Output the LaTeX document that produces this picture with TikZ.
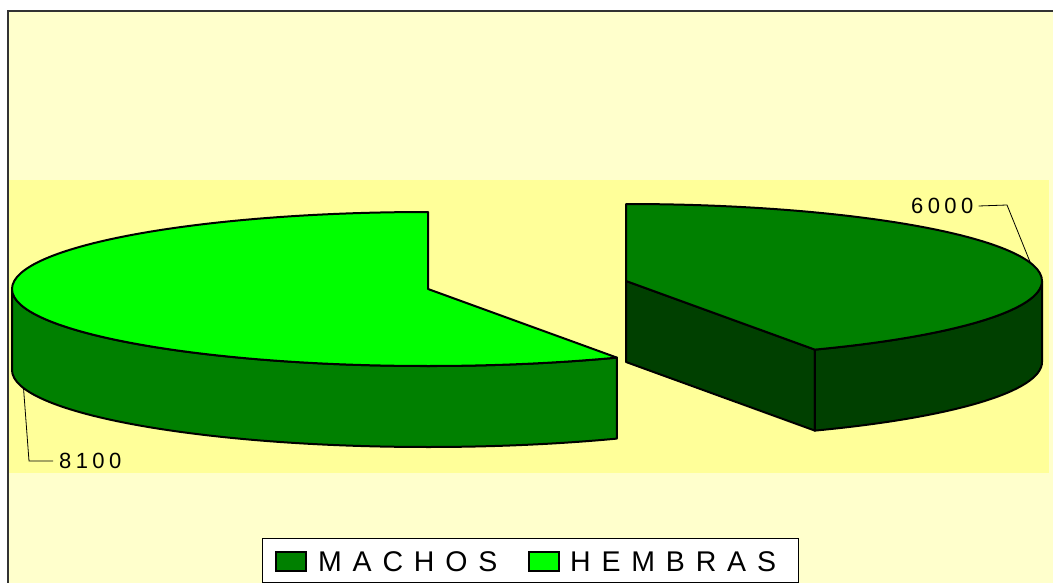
\documentclass[tikz,border=0pt]{standalone}
\usepackage{fontspec}
\setmainfont{Liberation Sans}
\usetikzlibrary{calc}
\definecolor{bgc}{HTML}{FFFFCC}
\definecolor{plotc}{HTML}{FFFF99}
\definecolor{bordc}{HTML}{333333}
\definecolor{ltgreen}{HTML}{00FF00}
\definecolor{midgreen}{HTML}{008000}
\definecolor{dkgreen}{HTML}{004000}
\begin{document}
\begin{tikzpicture}[x=1pt,y=-1pt,
  pieline/.style={draw=black,line width=2pt,line join=round},
  leader/.style={draw=black,line width=0.8pt},
  lbl/.style={font=\fontsize{22}{22}\selectfont\addfontfeature{LetterSpace=20}, inner sep=0pt, anchor=west},
  legtxt/.style={font=\fontsize{28.5}{28.5}\selectfont\addfontfeature{LetterSpace=38}, inner sep=0pt, anchor=west},
  swatch/.style={draw=black,line width=1.5pt,minimum width=30pt,minimum height=19pt,inner sep=0pt,anchor=west}]
\useasboundingbox (0,0) rectangle (1053,583);
\fill[white] (0,0) rectangle (1053,583);
\fill[bgc] (8,11) rectangle (1053,583);
\draw[line width=2pt, draw=bordc] (8,583) -- (8,11) -- (1053,11);
\fill[plotc] (9,180) rectangle (1049,473);
\coordinate (L) at (428,289);
\coordinate (R) at (626,281);
% left piece (HEMBRAS)
\path[pieline, fill=midgreen] ($(L)+(63:416 and 77)$) arc[start angle=63,end angle=180,x radius=416,y radius=77] -- ++(0,81) arc[start angle=180,end angle=63,x radius=416,y radius=77] -- cycle;
\path[pieline, fill=ltgreen] (L) -- ++(270:416 and 77) arc[start angle=270,end angle=63,x radius=416,y radius=77] -- cycle;
% right piece (MACHOS)
\path[pieline, fill=dkgreen] (R) -- ++(63:416 and 77) -- ++(0,81) -- ($(R)+(0,81)$) -- cycle;
\path[pieline, fill=dkgreen] ($(R)+(63:416 and 77)$) arc[start angle=63,end angle=0,x radius=416,y radius=77] -- ++(0,81) arc[start angle=0,end angle=63,x radius=416,y radius=77] -- cycle;
\path[pieline, fill=midgreen] (R) -- ++(-90:416 and 77) arc[start angle=-90,end angle=63,x radius=416,y radius=77] -- cycle;
% labels
\node[lbl] (t6000) at (911,206) {6000};
\node[lbl] (t8100) at (59,461) {8100};
\coordinate (p6) at ($(R)+(-13.5:416 and 77)$);
\coordinate (p8) at ($(L)+(166.5:416 and 77)+(0,81)$);
\coordinate (k6) at (1007,205);
\coordinate (k8) at (29,461);
\draw[leader] ([xshift=5pt]t6000.east) -- (k6) -- (p6);
\draw[leader] (p8) -- (k8) -- ([xshift=-6pt]t8100.west);
% legend
\node[draw=black,line width=1pt,fill=white,minimum width=536pt,minimum height=44pt,inner sep=0pt,anchor=north west] (leg) at (262,538) {};
\node[swatch,fill=midgreen] (s1) at (275,561.5) {};
\node[legtxt] (m) at (318,561.5) {MACHOS};
\node[swatch,fill=ltgreen] (s2) at (528,561.5) {};
\node[legtxt] (h) at (570,561.5) {HEMBRAS};
\end{tikzpicture}
\end{document}
